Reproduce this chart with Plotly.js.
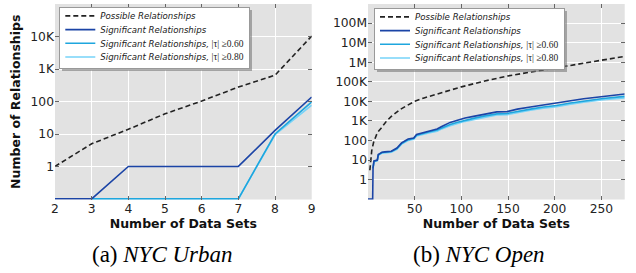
<!DOCTYPE html>
<html>
<head>
<meta charset="utf-8">
<script src="https://cdn.plot.ly/plotly-3.0.1.min.js"></script>
<style>html,body{margin:0;padding:0;background:#fff}#chart{width:636px;height:273px}</style>
</head>
<body>
<div id="chart"></div>
<script>
// ---- (a) NYC Urban ----
const urbanX = [2, 3, 4, 5, 6, 7, 8, 9];
const urbanPossible = [1, 5, 14, 42, 104, 280, 650, 10500];
const urbanSig = [0.1, 0.1, 1, 1, 1, 1, 13, 138];
const urbanSig60 = [null, 0.1, 0.1, 0.1, 0.1, 0.1, 10, 98];
const urbanSig80 = [null, 0.1, 0.1, 0.1, 0.1, 0.1, 9.5, 78];

// ---- (b) NYC Open ----
const openPossX = [2, 3, 4, 6, 8, 10, 14, 20, 25, 30, 35, 40, 50, 60, 75, 100, 125, 150, 175, 200, 225, 250, 275];
const openPossible = [3, 12, 30, 80, 160, 250, 420, 1000, 1700, 2700, 4000, 5500, 10000, 15000, 25000, 55000, 110000, 200000, 320000, 500000, 750000, 1200000, 2000000];
const openX = [0, 5, 5.4, 6.4, 10, 11, 13, 15, 18, 25, 31, 36, 43, 49, 52, 58, 65, 74, 79, 88, 95, 104, 113, 124, 138, 149, 160, 174, 188, 202, 217, 231, 252, 275];
const openSig = [0.1, 0.1, 4, 9, 10, 19, 22, 25, 26, 28, 41, 75, 118, 134, 200, 240, 290, 385, 520, 840, 1050, 1400, 1700, 2200, 2900, 3000, 4000, 5100, 6500, 7800, 10500, 13500, 17800, 23600];
const openSig60 = [null, null, 3.8, 8.6, 9.6, 18, 21, 24, 25, 27, 38, 70, 110, 125, 185, 225, 270, 340, 440, 650, 820, 1100, 1350, 1750, 2300, 2400, 3100, 4000, 5100, 6100, 8200, 10500, 14000, 18000];
const openSig80 = [null, null, 3.6, 8.2, 9.2, 17, 20, 22, 23, 25, 35, 65, 100, 115, 170, 205, 245, 300, 390, 560, 720, 950, 1150, 1500, 2000, 2100, 2700, 3500, 4400, 5300, 7100, 9100, 12000, 15000];

const urbanYTicks = [1, 10, 100, 1000, 10000];
const urbanYText = ['1', '10', '100', '1K', '10K'];
const openYTicks = [1, 10, 100, 1000, 10000, 100000, 1000000, 10000000, 100000000];
const openYText = ['1', '10', '100', '1K', '10K', '100K', '1M', '10M', '100M'];
const urbanXTicks = [2, 3, 4, 5, 6, 7, 8, 9];
const openXTicks = [50, 100, 150, 200, 250];

const names = [
  '<i>Possible Relationships</i>',
  '<i>Significant Relationships</i>',
  '<i>Significant Relationships,</i> <span style="font-family:Liberation Serif;font-size:9.5px">|τ| ≥0.60</span>',
  '<i>Significant Relationships,</i> <span style="font-family:Liberation Serif;font-size:9.5px">|τ| ≥0.80</span>'
];
const cDark = '#1b44a6', cMid = '#1ea6de', cLight = '#76d3f8', cDash = '#222';

function mk(x, y, i, ax, leg, color, dash) {
  return {x: x, y: y, type: 'scatter', mode: 'lines', name: names[i],
    xaxis: ax[0], yaxis: ax[1], legend: leg, legendrank: i + 1,
    connectgaps: false,
    line: {color: color, width: 1.6, dash: dash || 'solid'}};
}
const A = ['x', 'y'], B = ['x2', 'y2'];
const data = [
  mk(urbanX, urbanPossible, 0, A, 'legend', cDash, '5px,3px'),
  mk(urbanX, urbanSig80, 3, A, 'legend', cLight),
  mk(urbanX, urbanSig60, 2, A, 'legend', cMid),
  mk(urbanX, urbanSig, 1, A, 'legend', cDark),
  mk(openPossX, openPossible, 0, B, 'legend2', cDash, '5px,3px'),
  mk(openX, openSig80, 3, B, 'legend2', cLight),
  mk(openX, openSig60, 2, B, 'legend2', cMid),
  mk(openX, openSig, 1, B, 'legend2', cDark)
];

const W = 636, H = 273;
const tickFont = {family: 'DejaVu Sans', size: 12.3, color: '#222'};
const titleFont = {family: 'DejaVu Sans', size: 12.5, color: '#111', weight: 'bold'};
function xa(l, r, ticks, range) {
  return {domain: [l / W, r / W], range: range, tickvals: ticks, showgrid: true,
    gridcolor: '#ffffff', gridwidth: 1, zeroline: false, showline: false,
    ticks: 'inside', ticklen: 4, tickcolor: '#666', mirror: 'ticks',
    tickfont: tickFont, title: {text: 'Number of Data Sets', font: titleFont, standoff: 4}};
}
function ya(range, tv, tt, title) {
  return {type: 'log', domain: [(H - 199.5) / H, (H - 4) / H], range: range,
    tickvals: tv, ticktext: tt, showgrid: true, gridcolor: '#ffffff', gridwidth: 1,
    zeroline: false, showline: false, ticks: 'inside', ticklen: 4, tickcolor: '#666',
    mirror: 'ticks', tickfont: tickFont,
    title: title ? {text: title, font: titleFont, standoff: 6} : {text: ''}};
}
const legStyle = {bgcolor: '#ffffff', bordercolor: '#999', borderwidth: 1,
  font: {family: 'DejaVu Sans', size: 8.6, color: '#222'}, xanchor: 'left', yanchor: 'top',
  traceorder: 'normal', itemwidth: 30};

const layout = {
  width: W, height: H, margin: {l: 0, r: 0, t: 0, b: 0},
  paper_bgcolor: '#ffffff', plot_bgcolor: '#e2e2e2',
  font: {family: 'DejaVu Sans'},
  xaxis: xa(55, 311.7, urbanXTicks, [2, 9]),
  yaxis: ya([-1.02, 5.01], urbanYTicks, urbanYText, 'Number of Relationships'),
  xaxis2: Object.assign(xa(368, 624.7, openXTicks, [0, 275]), {anchor: 'y2'}),
  yaxis2: Object.assign(ya([-1.02, 8.98], openYTicks, openYText, null), {anchor: 'x2'}),
  legend: Object.assign({x: 59.3 / W, y: 1 - 7.3 / H}, legStyle),
  legend2: Object.assign({x: 374 / W, y: 1 - 8.3 / H}, legStyle),
  annotations: [
    {text: '(a) <i>NYC Urban</i>', xref: 'paper', yref: 'paper', x: 162 / W, y: (H - 254) / H,
     xanchor: 'center', yanchor: 'middle', showarrow: false,
     font: {family: 'Liberation Serif', size: 23, color: '#000'}},
    {text: '(b) <i>NYC Open</i>', xref: 'paper', yref: 'paper', x: 479 / W, y: (H - 254) / H,
     xanchor: 'center', yanchor: 'middle', showarrow: false,
     font: {family: 'Liberation Serif', size: 23, color: '#000'}}
  ],
  showlegend: true
};
layout.xaxis.anchor = 'y';
layout.yaxis.anchor = 'x';

Plotly.newPlot('chart', data, layout, {staticPlot: true, displayModeBar: false}).then(function (gd) {
  // compact legend rows like the matplotlib original
  ['legend', 'legend2'].forEach(function (cls) {
    const g = gd.querySelector('g.' + cls);
    if (!g) return;
    const items = g.querySelectorAll('g.traces');
    const rowH = 13.7, top = 8.6;
    items.forEach(function (it, i) {
      const m = /translate\(([-\d.]+)[ ,]+([-\d.]+)\)/.exec(it.getAttribute('transform') || '');
      const tx = m ? m[1] : 0;
      it.setAttribute('transform', 'translate(' + tx + ',' + (top + i * rowH) + ')');
    });
    const bg = g.querySelector('rect.bg');
    if (bg) {
      const newH = top + (items.length - 1) * rowH + 10.5;
      bg.setAttribute('height', newH);
      const sh = bg.cloneNode(false);
      sh.setAttribute('class', 'shadow');
      sh.setAttribute('transform', 'translate(2.5,2.5)');
      sh.style.fill = '#7a7a7a';
      sh.style.stroke = 'none';
      sh.style.fillOpacity = '0.6';
      bg.parentNode.insertBefore(sh, bg);
    }
  });
});
</script>
</body>
</html>
